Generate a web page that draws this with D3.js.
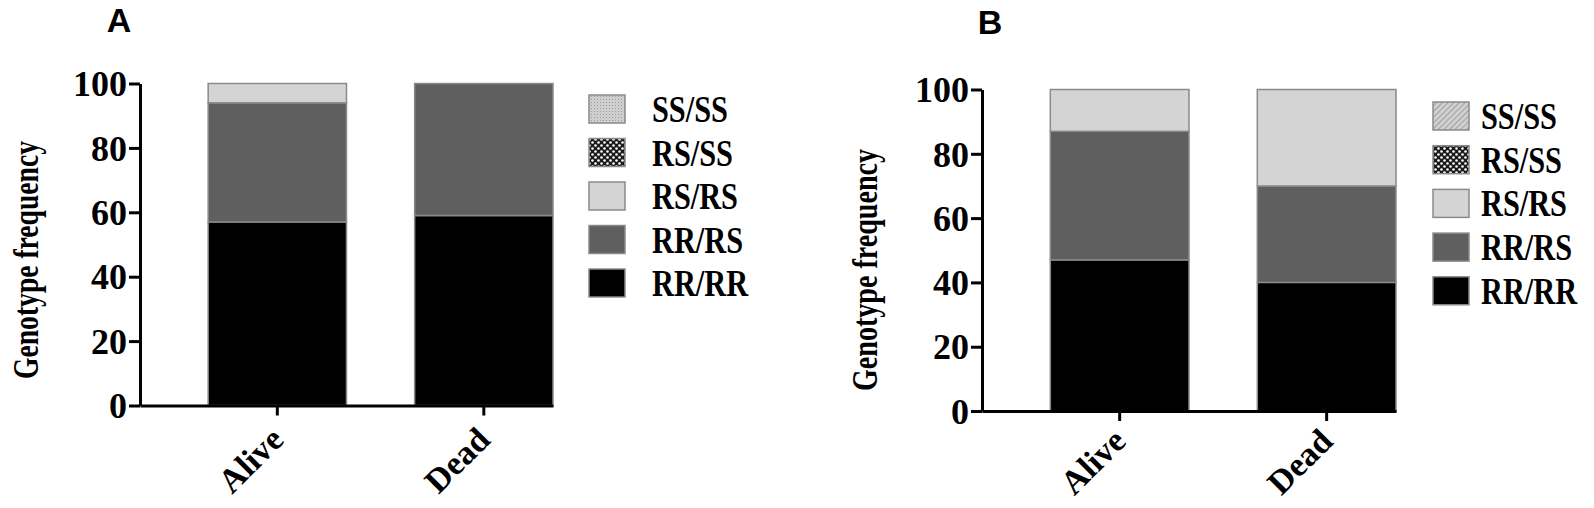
<!DOCTYPE html>
<html>
<head>
<meta charset="utf-8">
<script src="https://cdn.jsdelivr.net/npm/d3@7"></script>
<style>
  body { margin: 0; background: #fff; }
  svg text { font-family: "Liberation Serif", "Times New Roman", serif; font-weight: bold; fill: #000; }
  .letter { font-family: "Liberation Sans", Arial, sans-serif !important; }
</style>
</head>
<body>
<script>
// categorieen en genotypen (stapel van onder naar boven)
var groepen = ["Alive", "Dead"];
var genotypen = ["RR/RR", "RR/RS", "RS/RS", "RS/SS", "SS/SS"];
var legendaVolgorde = ["SS/SS", "RS/SS", "RS/RS", "RR/RS", "RR/RR"];
var yTicks = [0, 20, 40, 60, 80, 100];

// panel A waarden (Alive, Dead)
var aRRRR = [57, 59];
var aRRRS = [37, 41];
var aRSRS = [6, 0];
var aRSSS = [0, 0];
var aSSSS = [0, 0];

// panel B waarden (Alive, Dead)
var bRRRR = [47, 40];
var bRRRS = [40, 30];
var bRSRS = [13, 30];
var bRSSS = [0, 0];
var bSSSS = [0, 0];

function maakRijen(rrrr, rrrs, rsrs, rsss, ssss) {
  return groepen.map(function(g, i) {
    return {groep: g, "RR/RR": rrrr[i], "RR/RS": rrrs[i], "RS/RS": rsrs[i], "RS/SS": rsss[i], "SS/SS": ssss[i]};
  });
}

var svg = d3.select("body").append("svg")
    .attr("width", 1594)
    .attr("height", 508);

// patronen voor de legenda
var defs = svg.append("defs");
var dam = defs.append("pattern").attr("id", "dam")
    .attr("width", 6).attr("height", 6).attr("patternUnits", "userSpaceOnUse");
dam.append("rect").attr("width", 6).attr("height", 6).attr("fill", "#1a1a1a");
dam.append("circle").attr("cx", 1.5).attr("cy", 1.5).attr("r", 1.3).attr("fill", "#fff");
dam.append("circle").attr("cx", 4.5).attr("cy", 4.5).attr("r", 1.3).attr("fill", "#fff");

var stip = defs.append("pattern").attr("id", "stip")
    .attr("width", 3).attr("height", 3).attr("patternUnits", "userSpaceOnUse");
stip.append("rect").attr("width", 3).attr("height", 3).attr("fill", "#cfcfcf");
stip.append("rect").attr("width", 1).attr("height", 1).attr("fill", "#9a9a9a");

var streep = defs.append("pattern").attr("id", "streep")
    .attr("width", 4).attr("height", 4).attr("patternUnits", "userSpaceOnUse")
    .attr("patternTransform", "rotate(45)");
streep.append("rect").attr("width", 4).attr("height", 4).attr("fill", "#d0d0d0");
streep.append("rect").attr("width", 1).attr("height", 4).attr("fill", "#a0a0a0");

var panelen = [
  {letter: "A", letterX: 119, letterY: 32, rijen: maakRijen(aRRRR, aRRRS, aRSRS, aRSSS, aSSSS),
   asX: 140, asEind: 553, nul: 405.5, honderd: 83.5, labelZak: 36,
   titelX: 25, titelY: 260, titelLengte: 238,
   legX: 589, legY: 95, legStap: 43.5, legTekst: 652, ssVulling: "url(#stip)"},
  {letter: "B", letterX: 990, letterY: 34, rijen: maakRijen(bRRRR, bRRRS, bRSRS, bRSSS, bSSSS),
   asX: 982, asEind: 1396, nul: 411, honderd: 89.5, labelZak: 32,
   titelX: 864, titelY: 270, titelLengte: 242,
   legX: 1433, legY: 102, legStap: 43.7, legTekst: 1481, ssVulling: "url(#streep)"}
];

panelen.forEach(function(p) {
  var kleur = {"RR/RR": "#000000", "RR/RS": "#5f5f5f", "RS/RS": "#d4d4d4", "RS/SS": "url(#dam)", "SS/SS": p.ssVulling};

  // schalen
  var x = d3.scaleBand()
      .domain(groepen)
      .range([p.asX, p.asEind])
      .paddingInner(0.33)
      .paddingOuter(0.165)
      .align(1);
  var y = d3.scaleLinear()
      .domain([0, 100])
      .range([p.nul, p.honderd]);

  // gestapelde staven
  var stapel = d3.stack().keys(genotypen)(p.rijen);
  svg.append("g").selectAll("g")
     .data(stapel)
     .enter().append("g")
     .attr("fill", function(d) { return kleur[d.key]; })
     .selectAll("rect")
     .data(function(d) { return d.filter(function(s) { return s[1] - s[0] > 0; }); })
     .enter().append("rect")
     .attr("x", function(d) { return x(d.data.groep); })
     .attr("y", function(d) { return y(d[1]); })
     .attr("width", x.bandwidth())
     .attr("height", function(d) { return y(d[0]) - y(d[1]); })
     .attr("stroke", "#8a8a8a")
     .attr("stroke-width", 1.5);

  // y-as
  var asY = svg.append("g")
      .attr("transform", "translate(" + p.asX + ",0)")
      .call(d3.axisLeft(y).tickValues(yTicks).tickSize(11).tickSizeOuter(0).tickPadding(2));
  asY.select(".domain").attr("stroke-width", 3);
  asY.selectAll(".tick line").attr("stroke-width", 3);
  asY.selectAll(".tick text").attr("font-size", "36px").attr("font-family", null).attr("dy", "0.34em");

  // x-as
  var asXg = svg.append("g")
      .attr("transform", "translate(0," + p.nul + ")")
      .call(d3.axisBottom(x).tickSize(10).tickSizeOuter(0).tickFormat(""));
  asXg.select(".domain").attr("stroke-width", 3);
  asXg.selectAll(".tick line").attr("stroke-width", 3);

  // gedraaide labels onder de staven
  svg.append("g").selectAll("text")
     .data(groepen)
     .enter().append("text")
     .attr("transform", function(d) {
       return "translate(" + (x(d) + x.bandwidth() / 2 + 8) + "," + (p.nul + p.labelZak) + ") rotate(-45)";
     })
     .attr("text-anchor", "end")
     .attr("font-size", "34px")
     .text(function(d) { return d; });

  // titel van de y-as
  svg.append("text")
     .attr("transform", "translate(" + p.titelX + "," + p.titelY + ") rotate(-90)")
     .attr("text-anchor", "middle")
     .attr("dy", "0.35em")
     .attr("font-size", "36px")
     .attr("textLength", p.titelLengte)
     .attr("lengthAdjust", "spacingAndGlyphs")
     .text("Genotype frequency");

  // paneelletter
  svg.append("text")
     .attr("class", "letter")
     .attr("x", p.letterX)
     .attr("y", p.letterY)
     .attr("text-anchor", "middle")
     .attr("font-size", "34px")
     .text(p.letter);

  // legenda
  var legenda = svg.append("g");
  legenda.selectAll("rect")
     .data(legendaVolgorde)
     .enter().append("rect")
     .attr("x", p.legX)
     .attr("y", function(d, i) { return p.legY + i * p.legStap; })
     .attr("width", 36)
     .attr("height", 28)
     .attr("fill", function(d) { return kleur[d]; })
     .attr("stroke", "#8a8a8a")
     .attr("stroke-width", 1.5);
  legenda.selectAll("text")
     .data(legendaVolgorde)
     .enter().append("text")
     .attr("transform", function(d, i) {
       return "translate(" + p.legTekst + "," + (p.legY + i * p.legStap + 27) + ") scale(0.82,1)";
     })
     .attr("font-size", "37px")
     .text(function(d) { return d; });
});
</script>
</body>
</html>
